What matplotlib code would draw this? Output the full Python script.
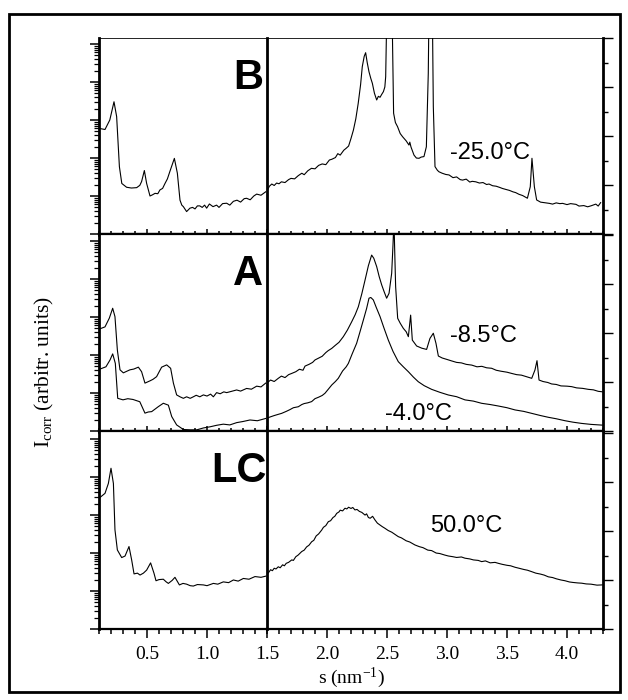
import numpy as np
import matplotlib
matplotlib.use("Agg")
import matplotlib.pyplot as plt
from matplotlib.ticker import MultipleLocator, LogLocator, NullFormatter, FixedLocator
from matplotlib.patches import Rectangle

plt.rcParams["mathtext.fontset"] = "custom"
plt.rcParams["mathtext.rm"] = "Liberation Serif"
plt.rcParams["mathtext.it"] = "Liberation Serif:italic"

# ---- data ----
# left part (s < 1.5) is on a log scale -> values are log10(I)
# right part (s > 1.5) is linear, arbitrary units

# B, -25.0 C
bx_left = [0.10, 0.15, 0.19, 0.225, 0.247, 0.27, 0.29, 0.33, 0.37, 0.414, 0.44, 0.455, 0.478,
           0.497, 0.525, 0.545, 0.567, 0.59, 0.608, 0.63, 0.65, 0.67, 0.69, 0.728, 0.753, 0.775,
           0.79, 0.803, 0.83, 0.858, 0.88, 0.90, 0.92, 0.94, 0.96, 0.98, 0.997, 1.02, 1.05, 1.08,
           1.10, 1.13, 1.164, 1.19, 1.22, 1.25, 1.28, 1.31, 1.33, 1.36, 1.39, 1.414, 1.45, 1.489]
b_left = [2.78, 2.75, 3.00, 3.48, 3.09, 1.77, 1.33, 1.23, 1.21, 1.22, 1.28, 1.38, 1.67,
          1.33, 1.00, 1.03, 1.07, 1.06, 1.16, 1.20, 1.33, 1.45, 1.64, 1.99, 1.60, 0.89,
          0.76, 0.72, 0.59, 0.68, 0.70, 0.66, 0.74, 0.74, 0.70, 0.76, 0.68, 0.79, 0.72, 0.76,
          0.70, 0.80, 0.81, 0.76, 0.86, 0.89, 0.84, 0.93, 0.94, 0.90, 1.00, 1.05, 1.02, 1.11]
bx_right = [1.497, 1.52, 1.54, 1.56, 1.58, 1.60, 1.62, 1.65, 1.68, 1.70, 1.73, 1.76, 1.79, 1.81,
            1.84, 1.87, 1.90, 1.93, 1.96, 1.99, 2.02, 2.04, 2.07, 2.09, 2.11, 2.14, 2.16, 2.18,
            2.20, 2.22, 2.24, 2.26, 2.28, 2.294, 2.31, 2.322, 2.335, 2.35, 2.365, 2.378, 2.395,
            2.414, 2.428, 2.442, 2.456, 2.47, 2.482, 2.489, 2.50, 2.52, 2.535, 2.541, 2.555,
            2.57, 2.588, 2.61, 2.63, 2.66, 2.683, 2.69, 2.70, 2.725, 2.745, 2.767, 2.785, 2.808,
            2.828, 2.844, 2.856, 2.872, 2.886, 2.90, 2.92, 2.933, 2.96, 2.99, 3.017, 3.05, 3.08,
            3.11, 3.13, 3.16, 3.19, 3.21, 3.24, 3.27, 3.30, 3.33, 3.35, 3.38, 3.41, 3.44, 3.461,
            3.49, 3.52, 3.55, 3.572, 3.60, 3.63, 3.67, 3.694, 3.708, 3.728, 3.747, 3.78, 3.81,
            3.853, 3.88, 3.91, 3.94, 3.964, 4.00, 4.03, 4.075, 4.10, 4.14, 4.172, 4.20, 4.24,
            4.26, 4.28]
b_right = [1.73, 1.95, 2.04, 1.98, 2.08, 2.05, 2.13, 2.10, 2.22, 2.27, 2.25, 2.38, 2.48, 2.42,
           2.58, 2.68, 2.66, 2.80, 2.86, 2.83, 3.02, 3.05, 3.12, 3.28, 3.22, 3.42, 3.50, 3.59,
           3.90, 4.24, 4.70, 5.33, 6.10, 6.83, 7.25, 7.40, 7.00, 6.62, 6.35, 6.15, 5.75,
           5.47, 5.62, 5.58, 5.70, 5.81, 6.00, 6.42, 9.5, 12.0, 12.0, 9.5, 4.93,
           4.55, 4.38, 4.10, 3.97, 3.80, 3.63, 3.75, 3.55, 3.22, 3.10, 3.09, 3.14, 3.16,
           3.56, 6.56, 12.0, 12.0, 5.20, 2.75, 2.60, 2.54, 2.48, 2.43, 2.41, 2.30, 2.33,
           2.22, 2.20, 2.24, 2.12, 2.15, 2.13, 2.08, 2.10, 2.02, 2.04, 1.97, 1.95, 1.90, 1.86,
           1.82, 1.78, 1.72, 1.69, 1.62, 1.57, 1.46, 1.93, 3.09, 1.93, 1.39, 1.30, 1.28,
           1.25, 1.22, 1.27, 1.24, 1.25, 1.20, 1.24, 1.21, 1.14, 1.16, 1.11, 1.15, 1.22,
           1.14, 1.28]

# A, -8.5 C (upper) and -4.0 C (lower)
ax_left = [0.10, 0.15, 0.186, 0.214, 0.233, 0.253, 0.275, 0.303, 0.33, 0.358, 0.39, 0.428, 0.455,
           0.483, 0.525, 0.55, 0.58, 0.60, 0.622, 0.664, 0.697, 0.72, 0.747, 0.775, 0.803, 0.83,
           0.86, 0.886, 0.91, 0.94, 0.97, 1.00, 1.03, 1.053, 1.08, 1.11, 1.14, 1.164, 1.20, 1.247,
           1.28, 1.33, 1.37, 1.414, 1.45, 1.489]
a1_left = [2.68, 2.74, 2.97, 3.23, 3.01, 2.13, 1.61, 1.53, 1.57, 1.61, 1.63, 1.68, 1.56,
           1.26, 1.32, 1.36, 1.43, 1.55, 1.68, 1.74, 1.65, 1.26, 0.95, 0.90, 0.86, 0.90,
           0.86, 0.90, 0.94, 0.90, 0.95, 0.92, 0.97, 0.90, 1.01, 0.98, 1.03, 1.01, 1.04, 1.08,
           1.05, 1.12, 1.10, 1.18, 1.16, 1.26]
ax2_left = [0.10, 0.158, 0.192, 0.214, 0.236, 0.256, 0.30, 0.34, 0.383, 0.44, 0.483, 0.51, 0.539,
            0.594, 0.636, 0.678, 0.706, 0.747, 0.803, 0.86, 0.914, 0.97, 1.025, 1.08, 1.136,
            1.19, 1.247, 1.30, 1.358, 1.42, 1.489]
a2_left = [1.62, 1.69, 1.87, 2.03, 1.78, 0.86, 0.82, 0.85, 0.83, 0.77, 0.47, 0.50, 0.51,
           0.64, 0.73, 0.68, 0.38, 0.16, 0.04, 0.03, 0.03, 0.08, 0.11, 0.15, 0.18,
           0.16, 0.22, 0.25, 0.29, 0.27, 0.33]
ax_right = [1.497, 1.53, 1.56, 1.594, 1.62, 1.65, 1.68, 1.706, 1.74, 1.77, 1.80, 1.817, 1.85,
            1.88, 1.90, 1.928, 1.96, 1.99, 2.01, 2.039, 2.07, 2.10, 2.136, 2.17, 2.206, 2.235,
            2.261, 2.29, 2.317, 2.345, 2.372, 2.39, 2.414, 2.435, 2.456, 2.475, 2.497, 2.517,
            2.539, 2.55, 2.558, 2.565, 2.572, 2.589, 2.61, 2.636, 2.66, 2.678, 2.697, 2.711,
            2.747, 2.79, 2.83, 2.858, 2.886, 2.908, 2.928, 2.96, 3.00, 3.039, 3.08, 3.12, 3.16,
            3.206, 3.25, 3.29, 3.33, 3.372, 3.41, 3.45, 3.50, 3.539, 3.58, 3.62, 3.66, 3.706,
            3.733, 3.75, 3.767, 3.80, 3.84, 3.872, 3.91, 3.95, 4.0, 4.039, 4.08, 4.13, 4.178,
            4.22, 4.26, 4.294]
a1_right = [1.95, 2.08, 2.02, 2.15, 2.24, 2.18, 2.30, 2.35, 2.42, 2.52, 2.48, 2.65, 2.72,
            2.80, 2.90, 2.97, 3.05, 3.20, 3.28, 3.37, 3.50, 3.62, 3.85, 4.12, 4.46, 4.75,
            5.07, 5.60, 6.16, 6.75, 7.18, 7.05, 6.71, 6.30, 5.96, 5.70, 5.42, 5.62,
            6.44, 7.6, 8.6, 7.2, 5.89, 4.60, 4.40, 4.19, 4.05, 3.85, 4.73, 3.71,
            3.47, 3.38, 3.33, 3.78, 3.99, 3.58, 3.06, 2.98, 2.92, 2.86, 2.80, 2.78, 2.72,
            2.69, 2.62, 2.64, 2.58, 2.56, 2.48, 2.44, 2.40, 2.35, 2.30, 2.28, 2.22, 2.15,
            2.49, 2.87, 2.08, 2.02, 1.98, 1.92, 1.90, 1.84, 1.83, 1.81, 1.76, 1.74, 1.70,
            1.68, 1.62, 1.60]
ax2_right = [1.497, 1.53, 1.56, 1.594, 1.622, 1.66, 1.69, 1.72, 1.761, 1.79, 1.81, 1.84,
             1.872, 1.90, 1.93, 1.96, 1.983, 2.01, 2.04, 2.07, 2.094, 2.13, 2.16, 2.178,
             2.21, 2.247, 2.275, 2.303, 2.33, 2.35, 2.365, 2.386, 2.41, 2.442, 2.475, 2.511,
             2.55, 2.594, 2.636, 2.678, 2.72, 2.761, 2.81, 2.872, 2.94, 3.011, 3.08, 3.15,
             3.22, 3.289, 3.36, 3.428, 3.50, 3.567, 3.64, 3.706, 3.78, 3.844, 3.91, 3.983,
             4.05, 4.122, 4.20, 4.294]
a2_right = [0.52, 0.58, 0.63, 0.68, 0.72, 0.80, 0.87, 0.95, 0.99, 1.08, 1.12, 1.15,
            1.20, 1.32, 1.38, 1.45, 1.54, 1.70, 1.88, 2.02, 2.15, 2.45, 2.62, 2.76,
            3.15, 3.58, 4.05, 4.53, 5.00, 5.42, 5.45, 5.35, 5.05, 4.67, 4.20, 3.71,
            3.25, 2.83, 2.62, 2.42, 2.20, 2.01, 1.85, 1.70, 1.58, 1.47, 1.40, 1.27,
            1.22, 1.13, 1.08, 1.02, 0.95, 0.86, 0.80, 0.72, 0.63, 0.56, 0.50, 0.42,
            0.36, 0.31, 0.27, 0.24]

# LC, 50.0 C
lx_left = [0.10, 0.15, 0.178, 0.20, 0.22, 0.233, 0.253, 0.289, 0.317, 0.35, 0.372, 0.392, 0.42,
           0.442, 0.47, 0.497, 0.53, 0.558, 0.575, 0.60, 0.636, 0.66, 0.678, 0.71, 0.733, 0.77,
           0.80, 0.83, 0.86, 0.886, 0.92, 0.97, 1.00, 1.053, 1.09, 1.136, 1.18, 1.22, 1.26,
           1.303, 1.35, 1.40, 1.45, 1.489]
lc_left = [3.44, 3.57, 3.83, 4.23, 3.83, 2.61, 2.08, 1.88, 1.92, 2.17, 1.82, 1.45, 1.47,
           1.42, 1.47, 1.55, 1.74, 1.47, 1.27, 1.30, 1.31, 1.24, 1.20, 1.28, 1.36, 1.16,
           1.20, 1.18, 1.14, 1.13, 1.17, 1.16, 1.14, 1.20, 1.18, 1.24, 1.22, 1.29, 1.26,
           1.33, 1.31, 1.38, 1.36, 1.39]
lc_right_pts = [(1.497, 2.34), (1.51, 2.28), (1.53, 2.42), (1.545, 2.38), (1.56, 2.48),
                (1.575, 2.45), (1.594, 2.54), (1.61, 2.50), (1.63, 2.62), (1.645, 2.58),
                (1.66, 2.68), (1.68, 2.72), (1.706, 2.82), (1.72, 2.80), (1.74, 2.95),
                (1.76, 3.02), (1.789, 3.16), (1.81, 3.22), (1.83, 3.35), (1.85, 3.42),
                (1.872, 3.56), (1.89, 3.62), (1.91, 3.80), (1.93, 3.88), (1.956, 4.04),
                (1.97, 4.15), (1.99, 4.22), (2.011, 4.38), (2.03, 4.42), (2.05, 4.55),
                (2.065, 4.60), (2.081, 4.72), (2.10, 4.78), (2.11, 4.85), (2.13, 4.82),
                (2.15, 4.93), (2.165, 4.90), (2.18, 4.97), (2.20, 4.92), (2.215, 4.96),
                (2.233, 4.86), (2.25, 4.88), (2.27, 4.80), (2.29, 4.76), (2.317, 4.65),
                (2.33, 4.70), (2.345, 4.55), (2.36, 4.52), (2.38, 4.60), (2.40, 4.45),
                (2.42, 4.32), (2.44, 4.25), (2.46, 4.18), (2.483, 4.11), (2.51, 4.02),
                (2.54, 3.95), (2.57, 3.85), (2.594, 3.77), (2.62, 3.72), (2.66, 3.60),
                (2.69, 3.55), (2.733, 3.43), (2.77, 3.36), (2.80, 3.32), (2.84, 3.22),
                (2.872, 3.20), (2.91, 3.10), (2.94, 3.08), (2.98, 3.02), (3.011, 2.98),
                (3.05, 2.95), (3.08, 2.92), (3.12, 2.94), (3.15, 2.89), (3.19, 2.86),
                (3.22, 2.82), (3.26, 2.80), (3.289, 2.75), (3.32, 2.78), (3.36, 2.70),
                (3.40, 2.72), (3.428, 2.68), (3.46, 2.64), (3.50, 2.60), (3.53, 2.58),
                (3.567, 2.52), (3.60, 2.48), (3.64, 2.43), (3.67, 2.40), (3.706, 2.34),
                (3.74, 2.28), (3.78, 2.24), (3.81, 2.20), (3.844, 2.13), (3.88, 2.10),
                (3.91, 2.05), (3.95, 2.00), (3.983, 1.97), (4.02, 1.92), (4.05, 1.90),
                (4.09, 1.88), (4.122, 1.87), (4.16, 1.84), (4.20, 1.83), (4.25, 1.79),
                (4.294, 1.80)]
lx_right = [p[0] for p in lc_right_pts]
lc_right = [p[1] for p in lc_right_pts]

panel_names = ["B", "A", "LC"]
temp_labels = [[("-25.0\u00b0C", 3.025, 3.05)],
               [("-8.5\u00b0C", 3.025, 3.64), ("-4.0\u00b0C", 2.483, 0.45)],
               [("50.0\u00b0C", 2.858, 3.97)]]
xt_left = [0.5, 1.0, 1.5]
xt_right = [2.0, 2.5, 3.0, 3.5, 4.0]

# ---- layout (pixels) ----
W, H = 628, 700
x0, xd, x1 = 99, 267, 603
rows = [(38, 234), (234, 431), (431, 629)]
decade_px = 38.0
unit_px = 24.5

serif = "Liberation Serif"
sans = "Liberation Sans"

fig = plt.figure(figsize=(W / 100, H / 100), dpi=100)


def frac(a, b, top, bot):
    return [a / W, 1 - bot / H, (b - a) / W, (bot - top) / H]


left_series = [[(bx_left, b_left)], [(ax_left, a1_left), (ax2_left, a2_left)], [(lx_left, lc_left)]]
right_series = [[(bx_right, b_right)], [(ax_right, a1_right), (ax2_right, a2_right)], [(lx_right, lc_right)]]

for i, (top, bot) in enumerate(rows):
    axl = fig.add_axes(frac(x0, xd, top, bot))
    axr = fig.add_axes(frac(xd, x1, top, bot))
    for xs, ys in left_series[i]:
        axl.plot(xs, 10 ** np.array(ys), color="black", lw=0.8)
    for xs, ys in right_series[i]:
        axr.plot(xs, ys, color="black", lw=0.8)

    axl.set_yscale("log")
    axl.set_ylim(1, 10 ** ((bot - top) / decade_px))
    axl.set_xlim(0.1, 1.5)
    axr.set_ylim(0, (bot - top) / unit_px)
    axr.set_xlim(1.5, 4.3)

    # left log axis
    axl.yaxis.set_major_locator(LogLocator(base=10, numticks=20))
    axl.yaxis.set_minor_locator(LogLocator(base=10, subs=np.arange(2, 10), numticks=20))
    axl.yaxis.set_major_formatter(NullFormatter())
    axl.yaxis.set_minor_formatter(NullFormatter())
    axl.tick_params(axis="y", which="major", direction="out", length=6.5, width=1.1)
    axl.tick_params(axis="y", which="minor", direction="out", length=3.5, width=0.9)

    # right linear axis
    axr.yaxis.tick_right()
    axr.yaxis.set_major_locator(MultipleLocator(2))
    axr.yaxis.set_minor_locator(MultipleLocator(1))
    axr.yaxis.set_major_formatter(NullFormatter())
    axr.tick_params(axis="y", which="major", direction="out", length=7, width=1.0)
    axr.tick_params(axis="y", which="minor", direction="out", length=3.5, width=1.0)

    axl.xaxis.set_major_locator(FixedLocator(xt_left))
    axl.xaxis.set_minor_locator(MultipleLocator(0.1))
    axr.xaxis.set_major_locator(FixedLocator(xt_right))
    axr.xaxis.set_minor_locator(MultipleLocator(0.1))

    last = i == len(rows) - 1
    for ax in (axl, axr):
        d = "out" if last else "inout"
        ax.tick_params(axis="x", which="major", direction=d, length=7 if not last else 6.5,
                       width=1.1, labelbottom=last, labelsize=14, pad=6)
        ax.tick_params(axis="x", which="minor", direction=d, length=5 if not last else 3.6,
                       width=1.1)
        for s in ax.spines.values():
            s.set_linewidth(1.6)
        ax.spines["top"].set_linewidth(0.6 if i == 0 else 1.6)
    axl.spines["left"].set_linewidth(2.0)
    axr.spines["right"].set_linewidth(2.0)
    axl.spines["right"].set_visible(False)
    axr.spines["left"].set_linewidth(2.0)

    if last:
        axl.set_xticklabels(["0.5", "1.0", "1.5"], fontfamily=serif, fontsize=14)
        axr.set_xticklabels([f"{v:.1f}" for v in xt_right], fontfamily=serif, fontsize=14)

    axl.text(0.995 if panel_names[i] == "LC" else 0.976, 0.74, panel_names[i],
             transform=axl.transAxes, ha="right", va="baseline",
             fontfamily=sans, fontweight="bold", fontsize=30)
    for txt, tx, ty in temp_labels[i]:
        axr.text(tx, ty, txt, ha="left", va="baseline", fontfamily=sans, fontsize=17)

fig.text(44 / W, 1 - 372 / H, r"I$_{\mathrm{corr}}$ (arbitr. units)", rotation=90,
         ha="center", va="center", fontfamily=serif, fontsize=15.5)
fig.text((x0 + x1) / 2 / W, 1 - 678 / H, r"s (nm$^{\mathrm{-1}}$)", ha="center", va="center",
         fontfamily=serif, fontsize=14)

fig.patches.append(Rectangle((9 / W, 1 - 692 / H), (620 - 9) / W, (692 - 14) / H,
                             transform=fig.transFigure, fill=False, lw=2, edgecolor="black"))

fig.savefig("out.png", dpi=100)
